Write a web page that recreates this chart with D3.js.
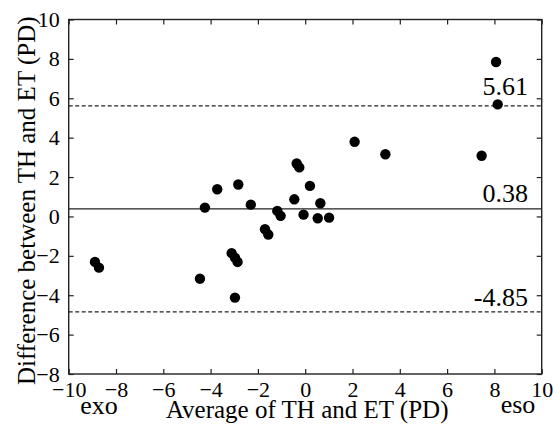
<!DOCTYPE html>
<html><head><meta charset="utf-8">
<script src="https://cdn.jsdelivr.net/npm/d3@7"></script>
<style>body{margin:0;background:#fff}svg{display:block}</style>
</head><body><svg id="c" width="553" height="426"></svg>
<script>
const avgValues = [-8.89,-8.72,-4.45,-4.24,-3.72,-3.11,-2.97,-2.86,-2.97,-2.83,-2.30,-1.70,-1.56,-1.18,-1.04,-0.46,-0.36,-0.25,-0.07,0.20,0.53,0.64,1.01,2.09,3.39,7.46,8.07,8.14];
const diffValues = [-2.31,-2.60,-3.16,0.45,1.38,-1.86,-2.09,-2.31,-4.12,1.62,0.60,-0.65,-0.92,0.28,0.03,0.87,2.69,2.49,0.09,1.55,-0.09,0.67,-0.06,3.79,3.16,3.08,7.84,5.69];
const meanDiff = 0.38, upperLoA = 5.61, lowerLoA = -4.85;
const xTicks = [-10,-8,-6,-4,-2,0,2,4,6,8,10];
const yTicks = [-8,-6,-4,-2,0,2,4,6,8,10];
const xTitle = "Average of TH and ET (PD)";
const yTitle = "Difference between TH and ET (PD)";

const FF = "'Liberation Serif', 'Times New Roman', Times, serif";
const svg = d3.select("#c");
const L=68.7,R=541.7,T=19.5,B=374;
const x = d3.scaleLinear().domain([-10,10]).range([L,R]);
const y = d3.scaleLinear().domain([-8,10]).range([B,T]);
const col="#222";
const ax = (g,axis)=>{g.call(axis);g.attr("font-family",FF);g.select(".domain").remove();g.selectAll(".tick line").attr("stroke",col).attr("stroke-width",1.2);};
svg.append("g").attr("transform",`translate(0,${B})`).call(g=>ax(g,d3.axisBottom(x).tickValues(xTicks).tickSize(-5).tickPadding(7).tickFormat(d3.format("d"))))
  .selectAll("text").attr("font-size",22).attr("dy","0.71em");
svg.append("g").attr("transform",`translate(0,${T})`).call(g=>ax(g,d3.axisTop(x).tickValues(xTicks).tickSize(-5).tickFormat("")));
svg.append("g").attr("transform",`translate(${L},0)`).call(g=>ax(g,d3.axisLeft(y).tickValues(yTicks).tickSize(-5).tickPadding(9).tickFormat(d3.format("d"))))
  .selectAll("text").attr("font-size",22);
svg.append("g").attr("transform",`translate(${R},0)`).call(g=>ax(g,d3.axisRight(y).tickValues(yTicks).tickSize(-5).tickFormat("")));
svg.selectAll("text").attr("font-family",FF).attr("fill","#000");
svg.append("rect").attr("x",L).attr("y",T).attr("width",R-L).attr("height",B-T).attr("fill","none").attr("stroke",col).attr("stroke-width",1.4);

[[upperLoA,"4,2.5"],[meanDiff,null],[lowerLoA,"4,2.5"]].forEach(([v,d])=>{
  svg.append("line").attr("x1",L).attr("x2",R).attr("y1",y(v)).attr("y2",y(v)).attr("stroke",col).attr("stroke-width",1.3).attr("stroke-dasharray",d);
});
const lab = svg.append("g").attr("font-family",FF);
[[upperLoA,"5.61",11],[meanDiff,"0.38",7],[lowerLoA,"-4.85",6]].forEach(([v,t,o])=>{
  lab.append("text").attr("x",528).attr("y",y(v)-o).attr("text-anchor","end").attr("font-size",26).text(t);
});

svg.append("g").selectAll("circle").data(avgValues.map((a,i)=>[a,diffValues[i]])).join("circle")
  .attr("cx",d=>x(d[0])).attr("cy",d=>y(d[1])).attr("r",5.2).attr("fill","#000");

lab.append("text").attr("x",(L+R)/2+2).attr("y",418).attr("text-anchor","middle").attr("font-size",25).text(xTitle);
lab.append("text").attr("x",99).attr("y",414).attr("text-anchor","middle").attr("font-size",26).text("exo");
lab.append("text").attr("x",518).attr("y",413).attr("text-anchor","middle").attr("font-size",26).text("eso");
lab.append("text").attr("transform",`translate(35,${(T+B)/2+4}) rotate(-90)`).attr("text-anchor","middle").attr("font-size",25).text(yTitle);
</script></body></html>
